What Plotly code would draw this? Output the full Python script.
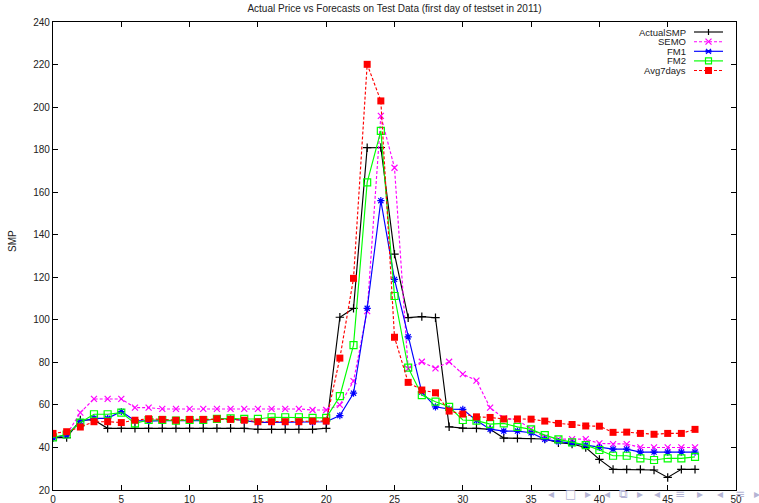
import plotly.graph_objects as go

hours = list(range(48))

actual_smp = [44.6, 44.6, 52.9, 52.9, 49, 49, 49, 49, 49, 49, 49, 49, 49, 49, 49,
              48.5, 48.5, 48.5, 48.5, 48.5, 49, 101.2, 105.4, 180.9, 181, 130.9,
              101, 101.5, 101, 49.7, 49.1, 49, 48.5, 44.4, 44.3, 44.2, 44, 42.2,
              41.6, 40, 34.4, 29.7, 29.7, 29.7, 29.4, 25.9, 29.7, 29.7]

semo = [44.5, 46, 56.4, 62.8, 62.8, 62.8, 58.7, 58.7, 58.1, 58.1, 58.1, 58.1,
        58.1, 58.1, 58.1, 58.1, 58.1, 58.1, 58.1, 57.6, 57.6, 60, 71.2, 104.1,
        195.9, 171.5, 77, 80.3, 77.2, 80.3, 74.5, 71.4, 58.7, 53.7, 53, 48.6,
        44.7, 43.9, 43.9, 43.9, 41.9, 41.6, 41.6, 40, 40, 40, 40, 40]

fm1 = [44.5, 45.8, 52.1, 53.7, 53.7, 56.9, 52.6, 52.4, 52.6, 52.6, 52.6, 52.6,
       53.5, 53.5, 52.6, 51.8, 51.8, 51.8, 51.8, 51.8, 52.1, 55, 65.5, 105.4,
       156, 119, 92, 66, 59.1, 58, 57.9, 52.7, 48.6, 47.7, 47.7, 46.9, 43.8,
       42.7, 41.9, 41.1, 40, 39.2, 39.2, 37.8, 37.8, 37.8, 37.8, 37.8]

fm2 = [44.7, 46.1, 51.7, 55.6, 55.6, 56.4, 51.3, 52.9, 52.9, 52.6, 52.9, 52.9,
       53.4, 53.7, 53.4, 53.4, 54.2, 54.2, 54.2, 53.9, 53.9, 64.1, 88.1, 164.6,
       188.8, 111.2, 77.5, 64.6, 61.5, 59.1, 52.9, 52.6, 51, 51.3, 49.7, 48.5,
       45.8, 43.8, 42.4, 41.1, 38.8, 36.1, 36.1, 34.9, 34.1, 34.9, 34.9, 35.6]

avg7days = [46.6, 47.4, 49.6, 52.1, 52.1, 51.7, 52.8, 53.5, 53.2, 52.8, 53.2,
            53.2, 53.5, 53.2, 52.8, 52.1, 52.1, 52.1, 52.1, 52.4, 52.4, 82, 119.5,
            220.1, 202.9, 91.8, 70.6, 67, 65.7, 57.1, 55.7, 54.4, 54.1, 53.4,
            53.4, 53.3, 52.4, 51.3, 50.8, 50.1, 50, 47.1, 47.2, 46.6, 46.2, 46.6,
            46.6, 48.5]

series_names = ["ActualSMP", "SEMO", "FM1", "FM2", "Avg7days"]
x_ticks = list(range(0, 51, 5))
y_ticks = list(range(20, 241, 20))

FONT = "Liberation Sans, Arial, sans-serif"
TXT = "#222222"
W, H = 759, 503
PL, PR, PT, PB = 53, 736, 22, 490  # plot area edges in pixels

styles = {
    "ActualSMP": dict(color="#000000", dash="solid", symbol="cross-thin", size=6, filled=False),
    "SEMO": dict(color="#ff00ff", dash="3px,2px", symbol="x-thin", size=6, filled=False),
    "FM1": dict(color="#0000ff", dash="solid", symbol="asterisk", size=6, filled=False),
    "FM2": dict(color="#00ff00", dash="solid", symbol="square-open", size=7, filled=False),
    "Avg7days": dict(color="#ff0000", dash="3px,2px", symbol="square", size=7, filled=True),
}
values = {"ActualSMP": actual_smp, "SEMO": semo, "FM1": fm1, "FM2": fm2, "Avg7days": avg7days}

fig = go.Figure()
for name in series_names:
    st = styles[name]
    marker = dict(symbol=st["symbol"], size=st["size"], color=st["color"],
                  line=dict(color=st["color"], width=1.2))
    if st["filled"]:
        marker["line"] = dict(width=0)
    fig.add_trace(go.Scatter(
        x=hours, y=values[name], name=name, mode="lines+markers",
        line=dict(color=st["color"], width=1.15, dash=st["dash"]),
        marker=marker, showlegend=False))


def px_x(p):
    return (p - PL) / (PR - PL)


def px_y(p):
    return (PB - p) / (PB - PT)


# gnuplot-style key: right-aligned text, sample line to the right
key_rows = [32, 41.7, 51.3, 60.9, 70.5]
text_right = 688
line_x0, line_x1, mark_x = 694, 723, 708.5
for name, ry in zip(series_names, key_rows):
    st = styles[name]
    c = st["color"]
    fig.add_annotation(x=px_x(text_right), y=px_y(ry), xref="paper", yref="paper",
                       text=name, showarrow=False, xanchor="right", yanchor="middle",
                       font=dict(family=FONT, size=9.5, color=TXT))
    fig.add_shape(type="line", xref="paper", yref="paper",
                  x0=px_x(line_x0), x1=px_x(line_x1), y0=px_y(ry), y1=px_y(ry),
                  line=dict(color=c, width=1.15,
                            dash="solid" if st["dash"] == "solid" else "3px,2px"))
    h = 3
    if name == "ActualSMP":
        fig.add_shape(type="line", xref="paper", yref="paper", x0=px_x(mark_x), x1=px_x(mark_x),
                      y0=px_y(ry - h), y1=px_y(ry + h), line=dict(color=c, width=1.2))
    elif name == "SEMO":
        for s in (1, -1):
            fig.add_shape(type="line", xref="paper", yref="paper",
                          x0=px_x(mark_x - h), x1=px_x(mark_x + h),
                          y0=px_y(ry - s * h), y1=px_y(ry + s * h), line=dict(color=c, width=1.2))
    elif name == "FM1":
        for s in (1, -1):
            fig.add_shape(type="line", xref="paper", yref="paper",
                          x0=px_x(mark_x - 2.5), x1=px_x(mark_x + 2.5),
                          y0=px_y(ry - s * 2.5), y1=px_y(ry + s * 2.5),
                          line=dict(color=c, width=1.2))
        fig.add_shape(type="line", xref="paper", yref="paper",
                      x0=px_x(mark_x - 3), x1=px_x(mark_x + 3),
                      y0=px_y(ry), y1=px_y(ry), line=dict(color=c, width=2.5))
    elif name == "FM2":
        fig.add_shape(type="rect", xref="paper", yref="paper",
                      x0=px_x(mark_x - 3), x1=px_x(mark_x + 3),
                      y0=px_y(ry - 3), y1=px_y(ry + 3), line=dict(color=c, width=1.2),
                      fillcolor="rgba(0,0,0,0)")
    else:
        fig.add_shape(type="rect", xref="paper", yref="paper",
                      x0=px_x(mark_x - 3.5), x1=px_x(mark_x + 3.5),
                      y0=px_y(ry - 3.5), y1=px_y(ry + 3.5), line=dict(width=0), fillcolor=c)

axis_common = dict(
    showline=True, linecolor="#000000", linewidth=1.2, mirror="ticks",
    ticks="inside", ticklen=5, tickcolor="#000000", tickwidth=1,
    showgrid=False, zeroline=False, automargin=False,
    tickfont=dict(family=FONT, size=10, color=TXT),
)

fig.update_xaxes(range=[0, 50], tickvals=x_ticks,
                 ticktext=[str(v) for v in x_ticks], **axis_common)
fig.update_yaxes(range=[20, 240], tickvals=y_ticks,
                 ticktext=[str(v) for v in y_ticks], **axis_common)

# y axis label
fig.add_annotation(x=px_x(12), y=px_y(241), xref="paper", yref="paper", text="SMP",
                   textangle=-90, showarrow=False, xanchor="center", yanchor="middle",
                   font=dict(family=FONT, size=10, color=TXT))

# navigation symbols (beamer artifact) at the bottom right
nav_items = [(551, "◂"), (570, "□"), (588, "▸"), (607, "◂"), (623, "⧉"),
             (640, "▸"), (657, "◂"), (680, "≡"), (700, "▸"), (720, "◂"),
             (740, "≡"), (757, "▸")]
for px, sym in nav_items:
    fig.add_annotation(x=px_x(px), y=px_y(494), xref="paper", yref="paper",
                       text=sym, showarrow=False,
                       font=dict(family="DejaVu Sans", size=12, color="#b4b4d4"),
                       xanchor="center", yanchor="middle")

fig.update_layout(
    width=W, height=H,
    margin=dict(l=PL, r=W - PR, t=PT, b=H - PB, autoexpand=False),
    paper_bgcolor="white", plot_bgcolor="white",
    title=dict(text="Actual Price vs Forecasts on Test Data (first day of testset in 2011)",
               x=394.5 / W, xanchor="center", y=1 - 8.5 / H, yanchor="middle",
               font=dict(family=FONT, size=10, color=TXT)),
    showlegend=False,
)

fig.write_html("out.html", config={"displayModeBar": False},
               post_script="document.body.style.margin='0';document.body.style.overflow='hidden';")
